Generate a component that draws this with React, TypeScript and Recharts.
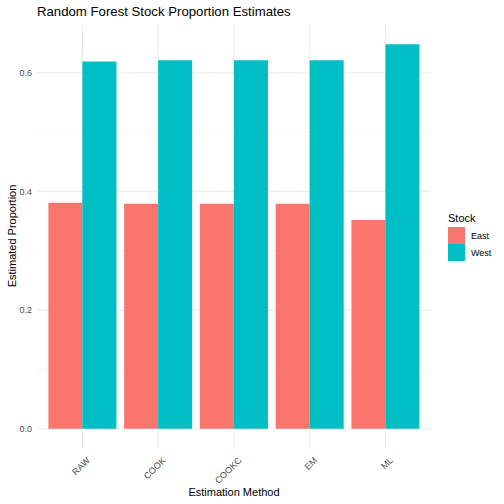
import { Bar, BarChart, CartesianGrid, Label, XAxis, YAxis } from "recharts";

const categories = ["RAW", "COOK", "COOKC", "EM", "ML"];
const eastValues = [0.381, 0.379, 0.379, 0.379, 0.352];
const westValues = [0.619, 0.621, 0.621, 0.621, 0.648];
const majorTicks = [0, 0.2, 0.4, 0.6];
const minorTicks = [0.1, 0.3, 0.5];
const stocks = [
  { key: "East", color: "#F8766D" },
  { key: "West", color: "#00BFC4" },
];

const data = categories.map((method, i) => ({
  method,
  East: eastValues[i],
  West: westValues[i],
}));

const FONT = '"Liberation Sans", Arial, sans-serif';
const GRID = "#EBEBEB";

// ggplot-style 5% expansion of the data range
const yMax = Math.max(...eastValues, ...westValues);
const yDomain = [-yMax * 0.05, yMax * 1.05];

function XTick({ x, y, payload }: any) {
  const px = x + 8;
  const py = y + 13;
  return (
    <text
      x={px}
      y={py}
      transform={`rotate(-45 ${px} ${py})`}
      textAnchor="end"
      fontSize={9}
      fontFamily={FONT}
      fill="#4D4D4D"
    >
      {payload.value}
    </text>
  );
}

export default function App() {
  return (
    <div
      style={{
        position: "fixed",
        left: 0,
        top: 0,
        width: 504,
        height: 504,
        background: "#fff",
        fontFamily: FONT,
      }}
    >
      <div
        style={{
          position: "absolute",
          left: 37,
          top: 4,
          fontSize: 13.2,
          color: "#000",
          whiteSpace: "nowrap",
        }}
      >
        Random Forest Stock Proportion Estimates
      </div>

      <div style={{ position: "absolute", left: 0, top: 0 }}>
        <BarChart
          width={504}
          height={504}
          data={data}
          margin={{ top: 25, right: 73, bottom: 0, left: 0 }}
          barCategoryGap="5%"
          barGap={0}
        >
          {/* minor grid, thinner */}
          <CartesianGrid
            stroke={GRID}
            strokeWidth={0.55}
            vertical={false}
            horizontalValues={minorTicks}
            syncWithTicks
          />
          <CartesianGrid
            stroke={GRID}
            strokeWidth={1.1}
            horizontalValues={majorTicks}
            verticalValues={categories}
            syncWithTicks
          />
          <XAxis
            dataKey="method"
            height={56}
            padding={{ left: 7.6, right: 7.6 }}
            axisLine={false}
            tickLine={false}
            tickSize={0}
            tickMargin={0}
            interval={0}
            tick={<XTick />}
          >
            <Label
              content={() => (
                <text
                  x={234}
                  y={496}
                  textAnchor="middle"
                  fontSize={11}
                  fontFamily={FONT}
                  fill="#000"
                >
                  Estimation Method
                </text>
              )}
            />
          </XAxis>
          <YAxis
            type="number"
            width={37}
            domain={yDomain}
            allowDataOverflow
            ticks={majorTicks}
            tickFormatter={(v: number) => v.toFixed(1)}
            axisLine={false}
            tickLine={false}
            tickSize={0}
            tickMargin={5}
            tick={{ fontSize: 9, fill: "#4D4D4D", fontFamily: FONT }}
          >
            <Label
              content={() => (
                <text
                  x={16}
                  y={236}
                  transform="rotate(-90 16 236)"
                  textAnchor="middle"
                  fontSize={11}
                  fontFamily={FONT}
                  fill="#000"
                >
                  Estimated Proportion
                </text>
              )}
            />
          </YAxis>
          {stocks.map((s) => (
            <Bar
              key={s.key}
              dataKey={s.key}
              fill={s.color}
              isAnimationActive={false}
            />
          ))}
        </BarChart>
      </div>

      <div
        style={{
          position: "absolute",
          left: 448,
          top: 210,
          fontSize: 11,
          color: "#000",
        }}
      >
        <div style={{ height: 17, lineHeight: "17px" }}>Stock</div>
        {stocks.map((s) => (
          <div
            key={s.key}
            style={{ display: "flex", alignItems: "center", height: 17 }}
          >
            <div style={{ width: 17, height: 17, background: s.color }} />
            <span style={{ marginLeft: 6, fontSize: 9 }}>{s.key}</span>
          </div>
        ))}
      </div>
    </div>
  );
}
